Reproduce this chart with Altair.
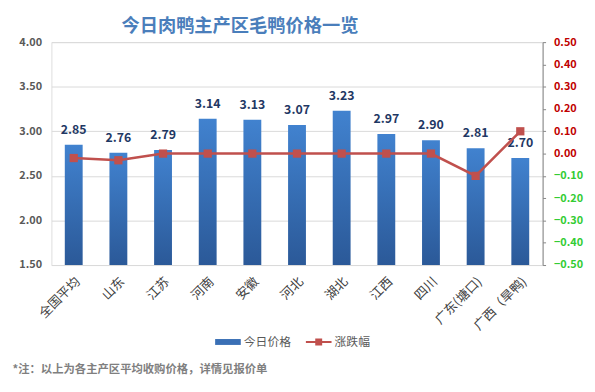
import altair as alt
import pandas as pd

regions = ["全国平均", "山东", "江苏", "河南", "安徽", "河北", "湖北", "江西", "四川", "广东(塘口)", "广西（旱鸭)"]
prices = [2.85, 2.76, 2.79, 3.14, 3.13, 3.07, 3.23, 2.97, 2.90, 2.81, 2.70]
changes = [-0.02, -0.03, 0.00, 0.00, 0.00, 0.00, 0.00, 0.00, 0.00, -0.10, 0.10]
series_names = ["今日价格", "涨跌幅"]
price_ticks = [1.5, 2.0, 2.5, 3.0, 3.5, 4.0]
change_ticks = [-0.5, -0.4, -0.3, -0.2, -0.1, 0.0, 0.1, 0.2, 0.3, 0.4, 0.5]

FONT = "Noto Sans CJK SC"

df = pd.DataFrame({"region": regions, "price": prices, "change": changes,
                   "series": [series_names[1]] * len(regions)})

xenc = alt.X("region:N", sort=regions,
             scale=alt.Scale(paddingInner=0.6, paddingOuter=0.3),
             axis=alt.Axis(title="*注：以上为各主产区平均收购价格，详情见报价单",
                           labelAngle=-45, labelFontSize=13, labelColor="#404040",
                           labelFont=FONT, labelPadding=10, ticks=False, domain=False,
                           titleX=-40, titleY=106, titleAnchor="start", titleAlign="left",
                           titleBaseline="middle", titleFont=FONT, titleFontSize=11.5,
                           titleColor="#7f7f7f", titleFontWeight="bold"))

yprice = alt.Y("price:Q", scale=alt.Scale(domain=[price_ticks[0], price_ticks[-1]], zero=False, nice=False),
               axis=alt.Axis(title=None, values=price_ticks, format=".2f", domain=False, ticks=False,
                             labelPadding=10, labelFontSize=11, labelFontWeight="bold",
                             labelColor="#595959", labelFont=FONT, gridColor="#d9d9d9"))

gradient = alt.Gradient(gradient="linear", x1=0, y1=0, x2=0, y2=1,
                        stops=[alt.GradientStop(offset=0, color="#4182cf"),
                               alt.GradientStop(offset=1, color="#2b5998")])

bars = alt.Chart(df).mark_bar(fill=gradient).encode(
    x=xenc, y=yprice, y2=alt.datum(price_ticks[0]))

labels = alt.Chart(df).mark_text(dy=-15, fontSize=12.5, fontWeight="bold", color="#1f3864",
                                 font=FONT, baseline="middle").encode(
    x=alt.X("region:N", sort=regions), y="price:Q", text=alt.Text("price:Q", format=".2f"))

left = alt.layer(bars, labels)

legend = alt.Legend(
    title=None, orient="none", legendX=166, legendY=291, direction="horizontal",
    labelFontSize=12, labelColor="#595959", labelFont=FONT, symbolSize=676,
    columnPadding=14, labelOffset=3,
    symbolType={"expr": "datum.value == '今日价格' ? 'M-1,-0.23H1V0.23H-1Z' : 'M-1,-0.08H1V0.08H-1Z M-0.27,-0.27H0.27V0.27H-0.27Z'"},
    symbolFillColor={"expr": "datum.value == '今日价格' ? '#3a6fb5' : '#c0504d'"},
    symbolStrokeWidth=0, symbolOpacity=1)

ychange = alt.Y("change:Q", scale=alt.Scale(domain=[change_ticks[0], change_ticks[-1]], nice=False),
                axis=alt.Axis(title=None, orient="right", values=change_ticks, format=".2f",
                              grid=False, domain=True, domainColor="#868686", ticks=True,
                              tickColor="#868686", tickSize=3, labelPadding=8, labelFontSize=11,
                              labelFontWeight="bold", labelFont=FONT,
                              labelColor={"expr": "datum.value < 0 ? '#33cc33' : '#c00000'"}))

line = alt.Chart(df).mark_line(strokeWidth=2.5,
                               point=alt.OverlayMarkDef(shape="square", size=70, filled=True)).encode(
    x=alt.X("region:N", sort=regions), y=ychange,
    color=alt.Color("series:N", scale=alt.Scale(domain=series_names, range=["#3a6fb5", "#c0504d"]),
                    legend=legend))

chart = alt.layer(left, line).resolve_scale(y="independent").properties(
    width=498, height=226,
    autosize=alt.AutoSizeParams(type="none"),
    padding={"left": 44, "top": 32, "right": 45, "bottom": 118},
    title=alt.TitleParams("今日肉鸭主产区毛鸭价格一览", anchor="start", frame="group", dx=71, offset=1,
                          fontSize=18.5, font=FONT, fontWeight="bold", color="#4a7ebb"),
).configure_view(stroke=None).configure(background="white")

chart.save("out.html", embed_options={"renderer": "svg", "actions": False})
